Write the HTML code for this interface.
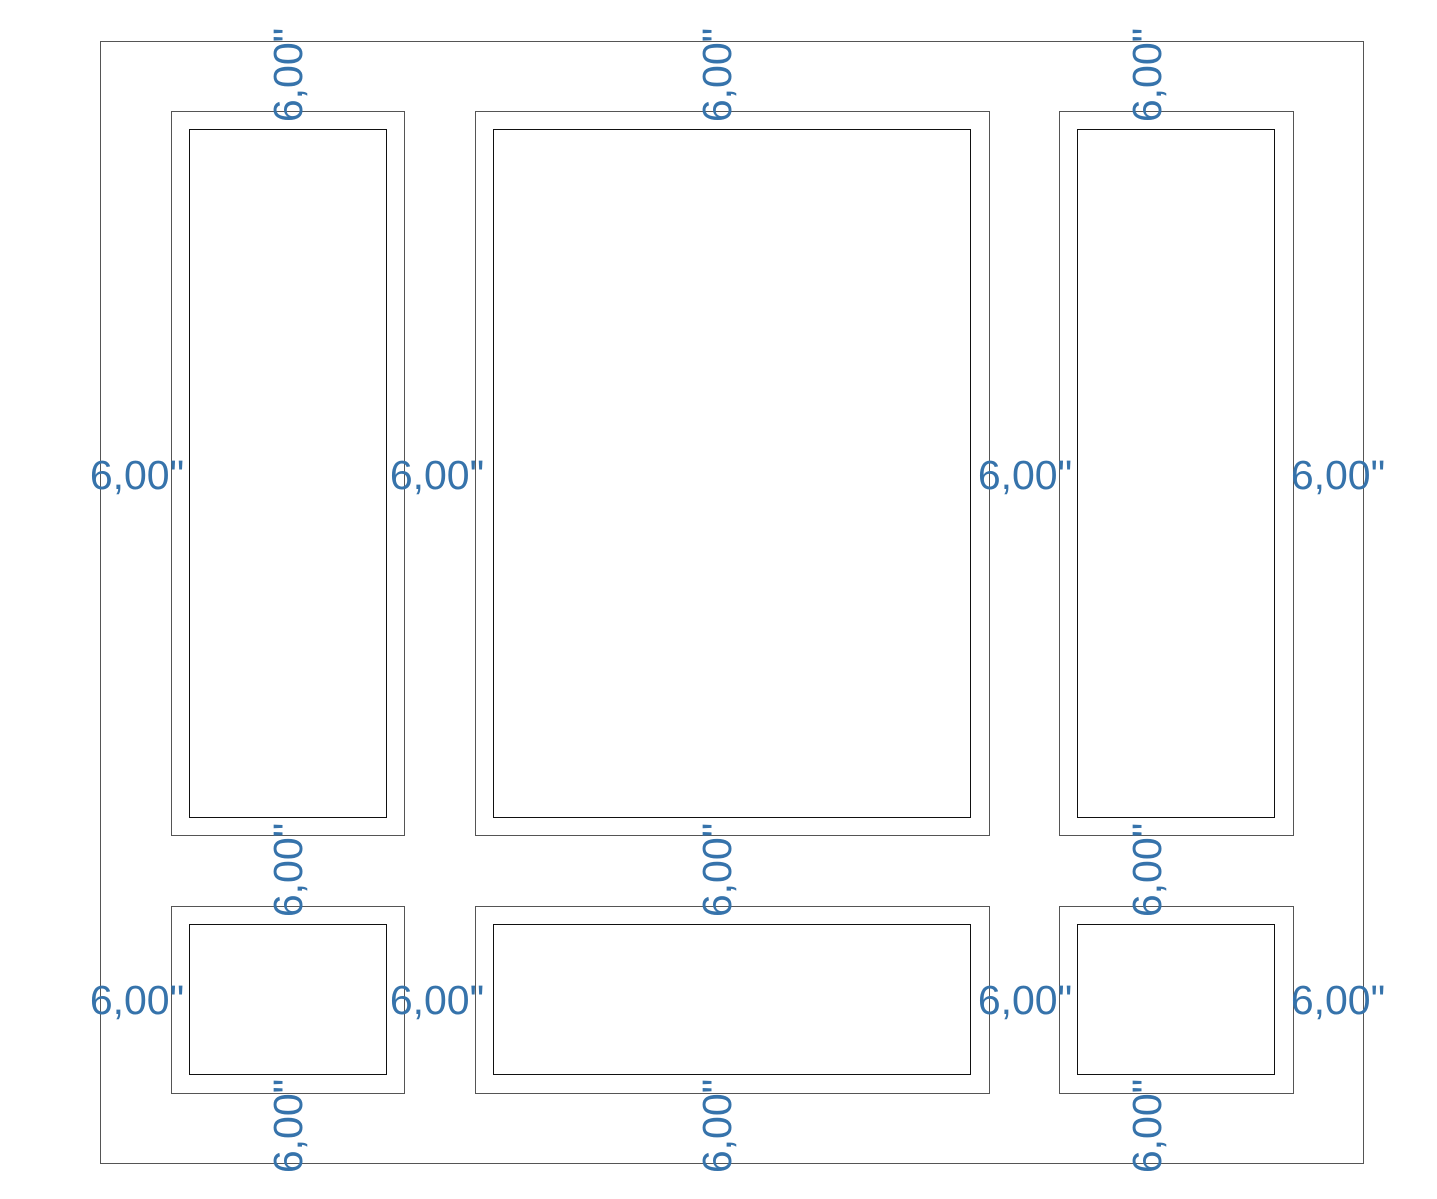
<!DOCTYPE html>
<html><head><meta charset="utf-8"><style>
html,body{margin:0;padding:0;background:#fff;}
svg{display:block}
text{font-family:"Liberation Sans",Arial,sans-serif;font-size:41px;fill:#3673ab;}
</style></head><body>
<svg width="1437" height="1199" viewBox="0 0 1437 1199" xmlns="http://www.w3.org/2000/svg">
<g fill="none" stroke-width="1">
<rect x="100.5" y="41.5" width="1263" height="1122" stroke="#555"/>
<rect x="171.5" y="111.5" width="233" height="724" stroke="#555"/>
<rect x="189.5" y="129.5" width="197" height="688" stroke="#111"/>
<rect x="475.5" y="111.5" width="514" height="724" stroke="#555"/>
<rect x="493.5" y="129.5" width="477" height="688" stroke="#111"/>
<rect x="1059.5" y="111.5" width="234" height="724" stroke="#555"/>
<rect x="1077.5" y="129.5" width="197" height="688" stroke="#111"/>
<rect x="171.5" y="906.5" width="233" height="187" stroke="#555"/>
<rect x="189.5" y="924.5" width="197" height="150" stroke="#111"/>
<rect x="475.5" y="906.5" width="514" height="187" stroke="#555"/>
<rect x="493.5" y="924.5" width="477" height="150" stroke="#111"/>
<rect x="1059.5" y="906.5" width="234" height="187" stroke="#555"/>
<rect x="1077.5" y="924.5" width="197" height="150" stroke="#111"/>
</g>
<g text-anchor="middle">
<text x="137" y="489">6,00"</text>
<text x="437" y="489">6,00"</text>
<text x="1025" y="489">6,00"</text>
<text x="1338" y="489">6,00"</text>
<text x="137" y="1014">6,00"</text>
<text x="437" y="1014">6,00"</text>
<text x="1025" y="1014">6,00"</text>
<text x="1338" y="1014">6,00"</text>
<text transform="translate(302,75) rotate(-90)">6,00"</text>
<text transform="translate(731,75) rotate(-90)">6,00"</text>
<text transform="translate(1161,75) rotate(-90)">6,00"</text>
<text transform="translate(302,870) rotate(-90)">6,00"</text>
<text transform="translate(731,870) rotate(-90)">6,00"</text>
<text transform="translate(1161,870) rotate(-90)">6,00"</text>
<text transform="translate(302,1126) rotate(-90)">6,00"</text>
<text transform="translate(731,1126) rotate(-90)">6,00"</text>
<text transform="translate(1161,1126) rotate(-90)">6,00"</text>
</g>
</svg>
</body></html>
